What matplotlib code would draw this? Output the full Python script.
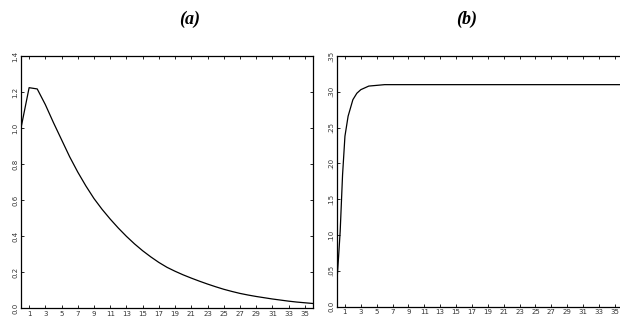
import numpy as np
import matplotlib
matplotlib.use("Agg")
import matplotlib.pyplot as plt

# panel (a): response by period
periods_a = list(range(0, 37))
resp_a = [1.00, 1.224, 1.217, 1.13, 1.03, 0.935, 0.84, 0.755, 0.678, 0.608,
          0.548, 0.494, 0.444, 0.398, 0.356, 0.318, 0.284, 0.253, 0.226, 0.204,
          0.184, 0.166, 0.149, 0.133, 0.118, 0.104, 0.092, 0.081, 0.072, 0.064,
          0.057, 0.050, 0.044, 0.038, 0.033, 0.029, 0.025]

# panel (b): accumulated response
periods_b = [0, 0.2, 0.4, 0.7, 1.0, 1.4, 2.0, 2.5, 3.0, 4.0, 5.0, 6.0, 36]
resp_b = [0.037, 0.07, 0.105, 0.184, 0.238, 0.266, 0.289, 0.298, 0.303,
          0.308, 0.309, 0.310, 0.310]

xticks = list(range(1, 37, 2))
yticks_a = [0.0, 0.2, 0.4, 0.6, 0.8, 1.0, 1.2, 1.4]
ylabels_a = ["0.0", "0.2", "0.4", "0.6", "0.8", "1.0", "1.2", "1.4"]
yticks_b = [0.0, 0.05, 0.10, 0.15, 0.20, 0.25, 0.30, 0.35]
ylabels_b = ["0.0", ".05", ".10", ".15", ".20", ".25", ".30", ".35"]

fig = plt.figure(figsize=(6.2, 3.22), dpi=100)
ax1 = fig.add_axes([21 / 620, 14 / 322, 292 / 620, 252 / 322])
ax2 = fig.add_axes([337 / 620, 15.3 / 322, 285.8 / 620, 250.7 / 322])


def style(ax, yt, yl, ylim):
    ax.set_xlim(0, 36)
    ax.set_ylim(*ylim)
    ax.set_xticks(xticks)
    ax.set_xticklabels([str(t) for t in xticks], fontsize=5, color="#333333")
    ax.set_yticks(yt)
    ax.set_yticklabels(yl, fontsize=5, rotation=90, va="center", color="#333333")
    ax.tick_params(direction="in", length=2.5, width=0.6, top=True, right=True,
                   pad=2)
    for s in ax.spines.values():
        s.set_linewidth(0.9)


ax1.plot(periods_a, resp_a, color="black", lw=0.9)
style(ax1, yticks_a, ylabels_a, (0, 1.4))

ax2.plot(periods_b, resp_b, color="black", lw=0.9)
style(ax2, yticks_b, ylabels_b, (0, 0.35))

fig.text(190 / 620, 1 - 19 / 322, "(a)", ha="center", va="center", fontsize=13,
         family="Liberation Serif", weight="bold", style="italic")
fig.text(467 / 620, 1 - 19 / 322, "(b)", ha="center", va="center", fontsize=13,
         family="Liberation Serif", weight="bold", style="italic")

fig.savefig("out.png", dpi=100)
